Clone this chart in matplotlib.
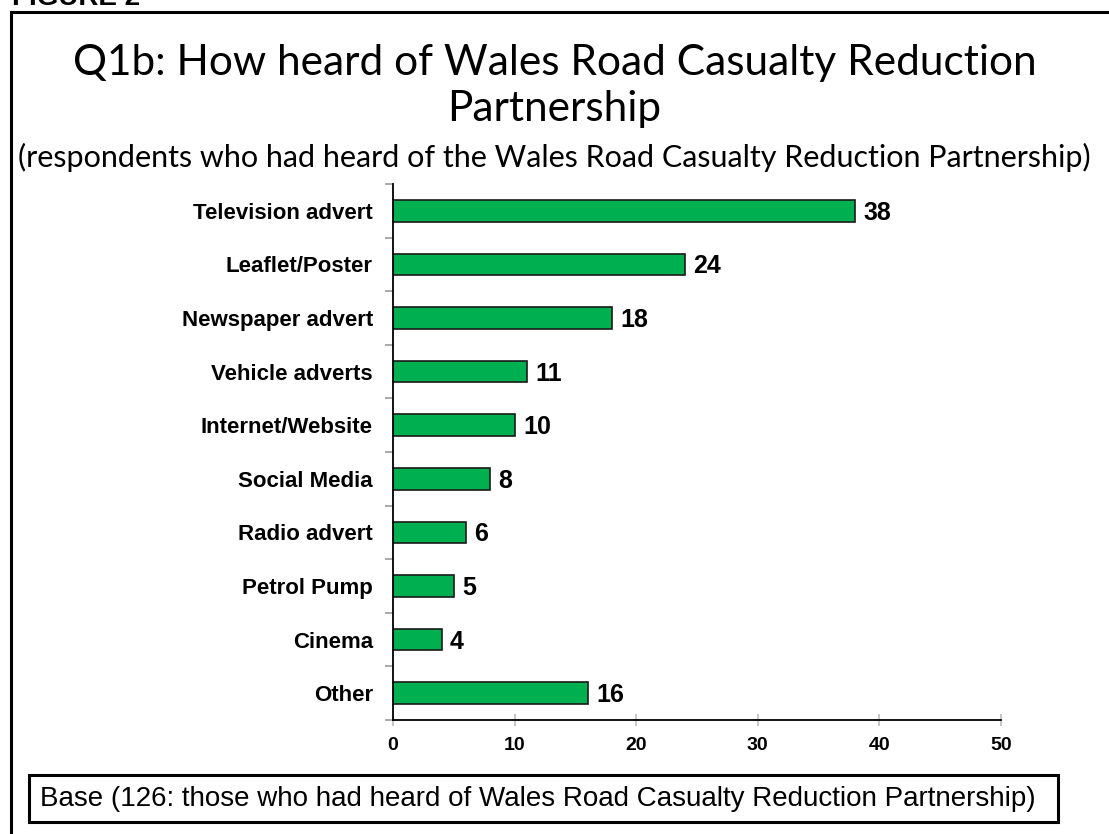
import matplotlib.pyplot as plt
from matplotlib.patches import Rectangle

categories = ["Television advert", "Leaflet/Poster", "Newspaper advert", "Vehicle adverts",
              "Internet/Website", "Social Media", "Radio advert", "Petrol Pump", "Cinema", "Other"]
values = [38, 24, 18, 11, 10, 8, 6, 5, 4, 16]
x_ticks = [0, 10, 20, 30, 40, 50]

title_lines = ["Q1b: How heard of Wales Road Casualty Reduction", "Partnership"]
subtitle = "(respondents who had heard of the Wales Road Casualty Reduction Partnership)"
base_note = "Base (126: those who had heard of Wales Road Casualty Reduction Partnership)"

W, H = 1109, 834
fig = plt.figure(figsize=(W / 100, H / 100), dpi=100)

# outer frame, runs off the right and bottom edges
fig.patches.append(Rectangle((11 / W, -0.1), 1.2, 1.1 - 12 / H, transform=fig.transFigure,
                             fill=False, edgecolor="black", linewidth=2.2))
fig.text(12 / W, 1 - 5 / H, "FIGURE 2", fontsize=20, fontweight="bold",
         family="Liberation Sans", va="baseline", ha="left")

fig.text(0.5, 1 - 75 / H, title_lines[0], fontsize=30.5, family="Lato", ha="center", va="baseline")
fig.text(0.5, 1 - 121 / H, title_lines[1], fontsize=30.5, family="Lato", ha="center", va="baseline")
fig.text(0.5, 1 - 167 / H, subtitle, fontsize=22, family="Lato", ha="center", va="baseline")

ax = fig.add_axes([393 / W, 1 - 720 / H, (1001 - 393) / W, (720 - 184) / H])
pos = list(range(len(categories)))
ax.barh(pos, values, height=0.4, color="#00B050", edgecolor="#1a1a1a", linewidth=1.2)
for p, v in zip(pos, values):
    ax.annotate(str(v), (v, p), xytext=(6, -6.5), textcoords="offset points",
                fontsize=18, fontweight="bold", family="Liberation Sans",
                va="baseline", ha="left")

ax.set_ylim(len(categories) - 0.5, -0.5)
ax.set_xlim(0, 50)
ax.set_yticks(pos)
ax.set_yticklabels(categories, fontsize=16, fontweight="bold", family="Liberation Sans")
ax.set_yticks([p - 0.5 for p in pos] + [len(pos) - 0.5], minor=True)
ax.tick_params(axis="y", which="major", length=0, pad=14.5)
ax.tick_params(axis="y", which="minor", length=6, color="#999999", width=1.2)
ax.set_xticks(x_ticks)
ax.set_xticklabels([str(t) for t in x_ticks], fontsize=14, fontweight="bold",
                   family="Liberation Sans")
ax.tick_params(axis="x", direction="inout", length=8, color="#bbbbbb", width=1.2, pad=8)
for s in ["top", "right"]:
    ax.spines[s].set_visible(False)
for s in ["left", "bottom"]:
    ax.spines[s].set_linewidth(1.3)

fig.patches.append(Rectangle((29 / W, 1 - 822 / H), (1058 - 29) / W, (822 - 775) / H,
                             transform=fig.transFigure, fill=False, edgecolor="black",
                             linewidth=2.2))
fig.text(40 / W, 1 - 799 / H, base_note, fontsize=20, family="Liberation Sans",
         ha="left", va="center")

fig.savefig("out.png", dpi=100)
